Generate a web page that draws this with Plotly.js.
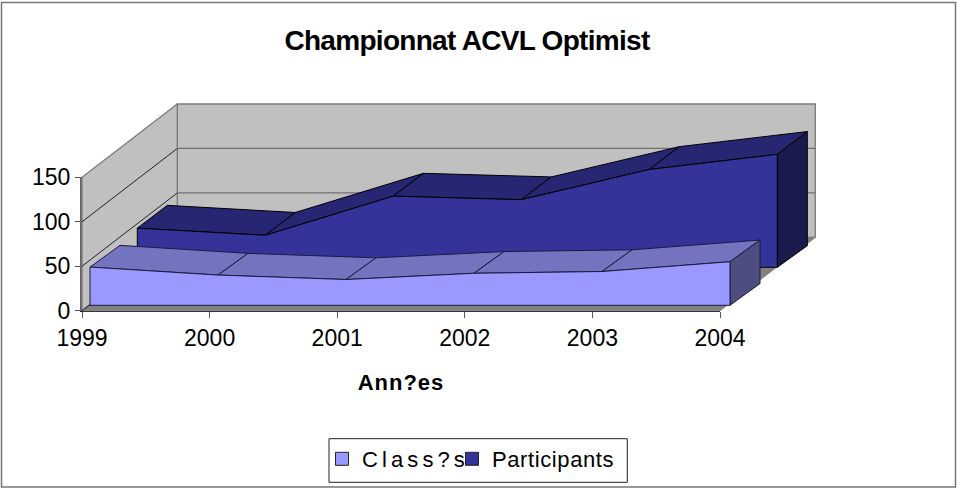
<!DOCTYPE html>
<html><head><meta charset="utf-8">
<script src="https://cdn.plot.ly/plotly-3.0.1.min.js"></script>
<style>html,body{margin:0;padding:0;background:#fff;overflow:hidden}</style>
</head><body><div id="chart" style="width:957px;height:490px"></div>
<script>
const years = [1999, 2000, 2001, 2002, 2003, 2004];
const classes = [43, 34, 29, 36, 38, 49];
const participants = [44, 36, 80, 76, 110, 127];
const yTicks = [0, 50, 100, 150];
const seriesNames = ['Class?s', 'Participants'];

// oblique projection of the 3D box, in axis units
const W = 957, H = 490, L = 82, R = 720, T = 177.3, B = 310.7;
const PXX = (R - L) / 5, PXY = (B - T) / 150, YEAR_STRETCH = 128 / PXX;
const dx = p => p / PXX, dy = p => p / PXY;
const WALL = [95.3, 73.3];
const proj = (year, val, off, extra) => [1999 + (year - 1999) * YEAR_STRETCH + dx(off[0]), val + dy(off[1] + (extra || 0))];
const wallPt = (year, val, f) => [year + dx(WALL[0] * f), val + dy(WALL[1] * f)];

const traces = [];
// carrier so that the visible axes x/y are drawn
traces.push({x: years, y: years.map(() => 0), xaxis: 'x', yaxis: 'y', mode: 'lines', line: {width: 0, color: 'rgba(0,0,0,0)'}, showlegend: false, hoverinfo: 'skip'});
function face(pts, fill, lc, lw) {
  traces.push({x: pts.map(p => p[0]), y: pts.map(p => p[1]), xaxis: 'x2', yaxis: 'y2', mode: 'lines', fill: 'toself',
    fillcolor: fill, line: {color: lc, width: lw === undefined ? 1 : lw},
    showlegend: false, hoverinfo: 'skip'});
}
function seg(pts, lc, lw) {
  traces.push({x: pts.map(p => p[0]), y: pts.map(p => p[1]), xaxis: 'x2', yaxis: 'y2', mode: 'lines',
    line: {color: lc, width: lw}, showlegend: false, hoverinfo: 'skip'});
}
const WALL_C = '#C0C0C0', EDGE = '#7a7a7a';
// walls and floor
face([wallPt(1999,0,1), wallPt(2004,0,1), wallPt(2004,150,1), wallPt(1999,150,1), wallPt(1999,0,1)], WALL_C, EDGE, 1.3);
face([wallPt(1999,0,0), wallPt(1999,0,1), wallPt(1999,150,1), wallPt(1999,150,0), wallPt(1999,0,0)], WALL_C, EDGE, 1.3);
face([wallPt(1999,0,0), wallPt(2004,0,0), wallPt(2004,0,1), wallPt(1999,0,1), wallPt(1999,0,0)], '#808080', '#808080', 1);
[50, 100].forEach(v => {
  seg([wallPt(1999,v,0), wallPt(1999,v,1)], '#222', 1);
  seg([wallPt(1999,v,1), wallPt(2004,v,1)], '#707070', 1.3);
});
seg([wallPt(1999,0,0), wallPt(1999,0,1)], '#222', 1);

function area(vals, front, back, extra, cFront, cTop, cSide, lc) {
  for (let i = 0; i < years.length - 1; i++) {
    const y0 = years[i], y1 = years[i + 1];
    face([proj(y0, vals[i], front), proj(y1, vals[i+1], front), proj(y1, vals[i+1], back, extra), proj(y0, vals[i], back, extra), proj(y0, vals[i], front)], cTop, lc);
  }
  const n = years.length - 1, ye = years[n];
  face([proj(ye, 0, front), proj(ye, vals[n], front), proj(ye, vals[n], back, extra), proj(ye, 0, back), proj(ye, 0, front)], cSide, lc);
  const pts = [proj(years[0], 0, front)];
  years.forEach((y, i) => pts.push(proj(y, vals[i], front)));
  pts.push(proj(ye, 0, front), proj(years[0], 0, front));
  face(pts, cFront, lc);
}
area(participants, [55.3, 43.4], [85.3, 65], 1.2, '#333399', '#262673', '#1A1A4D', '#000');
area(classes, [8, 5.4], [38, 27.1], 0, '#9999FF', '#7373BF', '#4D4D80', '#1a1a40');

// legend-only entries
[['#9999FF', 0], ['#333399', 1]].forEach(([c, i]) => traces.push({
  x: [null], y: [null], xaxis: 'x2', yaxis: 'y2', mode: 'markers', legend: i === 0 ? 'legend' : 'legend2',
  name: i === 0 ? '<span style="letter-spacing:4.1px">' + seriesNames[0] + '</span>' : '<span style="letter-spacing:0.6px">' + seriesNames[1] + '</span>',
  marker: {symbol: 'square', size: 13, color: c, line: {color: '#222', width: 1}}, hoverinfo: 'skip'
}));

const px = v => v / W, py = v => 1 - v / H;
const FONT = 'Liberation Sans, Arial, sans-serif';
const legendBase = {orientation: 'h', xanchor: 'left', yanchor: 'top', bgcolor: 'rgba(0,0,0,0)', borderwidth: 0,
  font: {size: 22, family: FONT}, itemwidth: 30};
const layout = {
  width: W, height: H, autosize: false,
  margin: {l: 0, r: 0, t: 0, b: 0, pad: 0},
  paper_bgcolor: '#fff', plot_bgcolor: 'rgba(0,0,0,0)',
  font: {family: FONT, color: '#000', size: 23},
  title: {text: '<span style="letter-spacing:-0.7px"><b>Championnat ACVL Optimist</b></span>', x: 467 / W, xanchor: 'center', y: 1 - 40 / H, yanchor: 'middle', font: {size: 28, family: FONT}},
  xaxis: {domain: [px(L), px(R)], range: [1999, 2004], tickvals: years, ticktext: years.map(String), ticks: 'outside', ticklen: 6, tickcolor: '#555', tickwidth: 1,
    showgrid: false, zeroline: false, showline: true, linecolor: '#222', linewidth: 1, ticklabelstandoff: 1, automargin: false, anchor: 'y',
    title: {text: '<span style="letter-spacing:1px"><b>Ann?es</b></span>', font: {size: 22, family: FONT}, standoff: 24}},
  yaxis: {domain: [py(B), py(T)], range: [0, 150], tickvals: yTicks, ticks: 'outside', ticklen: 5, tickcolor: '#555', tickwidth: 1, anchor: 'x',
    showgrid: false, zeroline: false, showline: true, linecolor: '#666', linewidth: 2, automargin: false},
  xaxis2: {domain: [0, 1], range: [1999 - L / PXX, 1999 + (W - L) / PXX], visible: false, anchor: 'y2', fixedrange: true},
  yaxis2: {domain: [0, 1], range: [-(H - B) / PXY, B / PXY], visible: false, anchor: 'x2', fixedrange: true},
  showlegend: true,
  legend: Object.assign({}, legendBase, {x: px(322), y: py(438)}),
  legend2: Object.assign({}, legendBase, {x: px(452), y: py(438)}),
  shapes: [
    {type: 'rect', xref: 'paper', yref: 'paper', x0: px(1.5), x1: px(955.5), y0: py(2.5), y1: py(487), line: {color: '#777', width: 1.5}, layer: 'below'},
    {type: 'rect', xref: 'paper', yref: 'paper', x0: px(329), x1: px(627.3), y0: py(438.7), y1: py(482.3), line: {color: '#222', width: 1}, layer: 'below'}
  ]
};
Plotly.newPlot('chart', traces, layout, {displayModeBar: false, staticPlot: true});
</script></body></html>
